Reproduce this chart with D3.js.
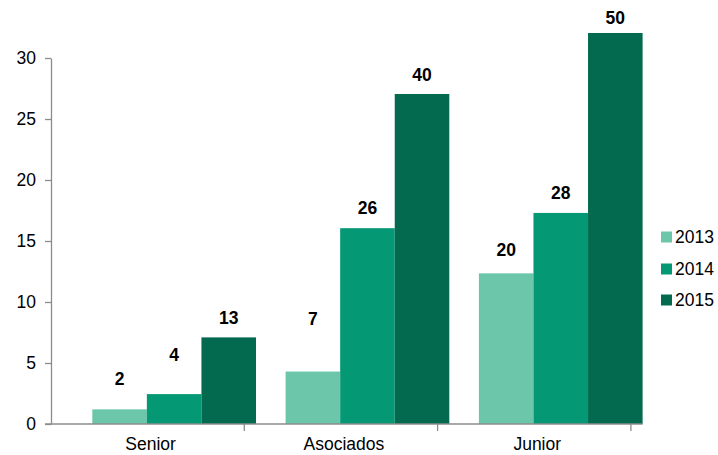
<!DOCTYPE html>
<html><head><meta charset="utf-8">
<script src="https://cdn.jsdelivr.net/npm/d3@7"></script>
<style>
html,body{margin:0;padding:0;background:#fff;}
svg{display:block;font-family:"Liberation Sans",Arial,sans-serif;}
</style></head>
<body>
<svg id="chart" width="718" height="455"></svg>
<script>
// ---- data ----
const categories = ["Senior", "Asociados", "Junior"];
const years = ["2013", "2014", "2015"];
const values2013 = [1.2, 4.3, 12.35];
const values2014 = [2.45, 16.05, 17.3];
const values2015 = [7.1, 27.05, 32.05];
// printed data labels
const labels2013 = ["2", "7", "20"];
const labels2014 = ["4", "26", "28"];
const labels2015 = ["13", "40", "50"];
// level (y axis units) where each printed label sits
const labelAt2013 = [3.7, 8.6, 14.3];
const labelAt2014 = [5.65, 17.7, 19.0];
const labelAt2015 = [8.7, 28.6, 33.3];
const yTicks = [0, 5, 10, 15, 20, 25, 30];
const colors = ["#6cc6aa", "#059875", "#036a50"];

const seriesVals = [values2013, values2014, values2015];
const seriesLabels = [labels2013, labels2014, labels2015];
const seriesLabelAt = [labelAt2013, labelAt2014, labelAt2015];

const svg = d3.select("#chart");
const left = 51, bandW = 193.3, y0 = 424, y30 = 58;
const groupOffset = 41.3, groupW = 163.7;
const fs = 17.5;

const x = d3.scaleBand().domain(categories).range([left, left + bandW * categories.length]).padding(0);
const x1 = d3.scaleBand().domain(years).range([0, groupW]).padding(0);
const y = d3.scaleLinear().domain([0, 30]).range([y0, y30]);
const axisColor = "#8c8c8c";

// bars
years.forEach((yr, si) => {
  svg.append("g").selectAll("rect")
    .data(categories.map((c, i) => ({c, v: seriesVals[si][i]})))
    .join("rect")
    .attr("x", d => x(d.c) + groupOffset + x1(yr))
    .attr("width", x1.bandwidth())
    .attr("y", d => y(d.v))
    .attr("height", d => y(0) - y(d.v))
    .attr("fill", colors[si]);
});

// labels
years.forEach((yr, si) => {
  svg.append("g").selectAll("text")
    .data(categories.map((c, i) => ({c, t: seriesLabels[si][i], at: seriesLabelAt[si][i]})))
    .join("text")
    .attr("x", d => x(d.c) + groupOffset + x1(yr) + x1.bandwidth() / 2)
    .attr("y", d => y(d.at))
    .attr("dy", "0.36em")
    .attr("text-anchor", "middle")
    .attr("font-size", fs)
    .attr("font-weight", "bold")
    .attr("fill", "#000")
    .text(d => d.t);
});

// y axis
const yAxis = svg.append("g").attr("transform", `translate(${left},0)`)
  .call(d3.axisLeft(y).tickValues(yTicks).tickSize(6).tickPadding(9).tickSizeOuter(0));
yAxis.select(".domain").attr("stroke", axisColor).attr("stroke-width", 1.3);
yAxis.selectAll(".tick line").attr("stroke", axisColor).attr("stroke-width", 1.3);
yAxis.selectAll(".tick text").attr("font-size", fs).attr("fill", "#000")
  .attr("font-family", "Liberation Sans, Arial, sans-serif");

// x axis
const xg = svg.append("g");
const xEnd = x(categories[categories.length - 1]) + groupOffset + groupW;
xg.append("line").attr("x1", left - 6).attr("x2", xEnd).attr("y1", y0).attr("y2", y0)
  .attr("stroke", axisColor).attr("stroke-width", 1.5);
const boundaries = categories.map(c => x(c) + x.bandwidth());
xg.selectAll("line.tk").data(boundaries).join("line").attr("class", "tk")
  .attr("x1", d => d).attr("x2", d => d).attr("y1", y0).attr("y2", y0 + 7)
  .attr("stroke", axisColor).attr("stroke-width", 1.3);
xg.selectAll("text").data(categories).join("text")
  .attr("x", d => x(d) + x.bandwidth() / 2 + 3)
  .attr("y", 450)
  .attr("text-anchor", "middle")
  .attr("font-size", fs)
  .attr("fill", "#000")
  .text(d => d);

// legend
const lg = svg.append("g");
const legendY = [237, 269, 300];
years.forEach((yr, i) => {
  lg.append("rect").attr("x", 661).attr("y", legendY[i] - 5.5).attr("width", 11).attr("height", 11).attr("fill", colors[i]);
  lg.append("text").attr("x", 675).attr("y", legendY[i]).attr("dy", "0.36em")
    .attr("font-size", fs).attr("fill", "#000").text(yr);
});
</script>
</body></html>
